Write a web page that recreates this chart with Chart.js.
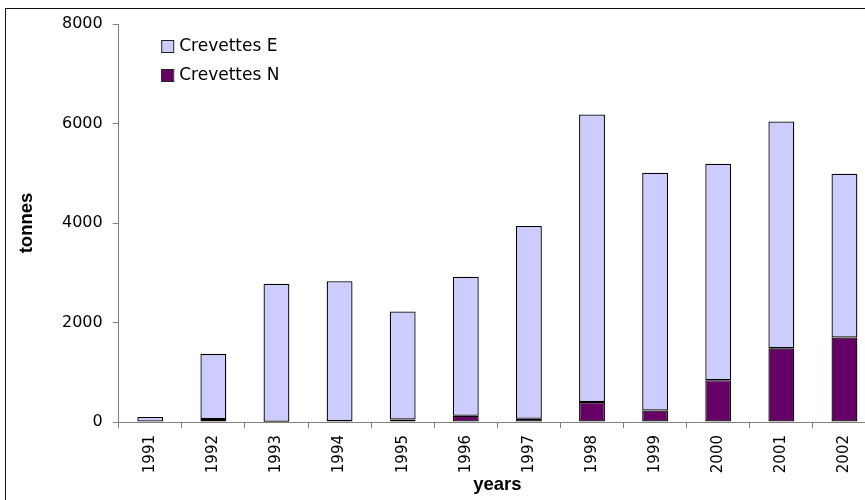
<!DOCTYPE html>
<html>
<head>
<meta charset="utf-8">
<script src="https://cdn.jsdelivr.net/npm/chart.js@4"></script>
<style>
  html, body { margin: 0; padding: 0; overflow: hidden; background: #fff; }
  #frame { position: absolute; left: 5px; top: 8px; width: 920px; height: 540px; border: 1px solid #111; }
  #chart { position: absolute; left: 0; top: 0; }
</style>
</head>
<body>
<div id="frame"></div>
<canvas id="chart" width="880" height="500"></canvas>
<script>
// values (tonnes)
const years = ['1991', '1992', '1993', '1994', '1995', '1996', '1997', '1998', '1999', '2000', '2001', '2002'];
const crevettesN = [0, 60, 5, 20, 50, 125, 65, 400, 230, 840, 1480, 1700];
const crevettesE = [100, 1310, 2775, 2810, 2170, 2795, 3875, 5780, 4780, 4350, 4560, 3290];
const yTicks = [0, 2000, 4000, 6000, 8000];

// legend drawn inside the plot, top-left, like the Excel original
const insideLegend = {
  id: 'insideLegend',
  afterDraw(chart) {
    const { ctx, chartArea } = chart;
    const items = chart.data.datasets.slice().reverse();
    ctx.save();
    ctx.font = '17px "DejaVu Sans"';
    ctx.textBaseline = 'middle';
    items.forEach((ds, i) => {
      const x = chartArea.left + 42.5;
      const y = chartArea.top + 22 + i * 29;
      ctx.fillStyle = ds.backgroundColor;
      ctx.fillRect(x, y - 6, 12, 12);
      ctx.strokeStyle = '#222';
      ctx.lineWidth = 1;
      ctx.strokeRect(x + 0.5, y - 5.5, 12, 12);
      ctx.fillStyle = '#000';
      ctx.fillText(ds.label, x + 18, y + 1);
    });
    ctx.restore();
  }
};

const ctx = document.getElementById('chart').getContext('2d');
new Chart(ctx, {
  type: 'bar',
  data: {
    labels: years,
    datasets: [{
      label: 'Crevettes N',
      data: crevettesN,
      backgroundColor: '#660066',
      borderColor: '#000',
      borderWidth: 1.3,
      borderSkipped: false
    }, {
      label: 'Crevettes E',
      data: crevettesE,
      backgroundColor: '#CCCCFF',
      borderColor: '#000',
      borderWidth: 1.3,
      borderSkipped: false
    }]
  },
  options: {
    responsive: false,
    animation: false,
    layout: { padding: { top: 24, right: 4, bottom: 0, left: 0 } },
    datasets: { bar: { categoryPercentage: 1, barPercentage: 0.41 } },
    plugins: {
      legend: { display: false },
      tooltip: { enabled: false }
    },
    scales: {
      x: {
        stacked: true,
        grid: { offset: true, drawOnChartArea: false, tickLength: 6, color: '#808080' },
        border: { color: '#808080', width: 1 },
        ticks: {
          autoSkip: false,
          minRotation: 90,
          maxRotation: 90,
          padding: 7,
          color: '#000',
          font: { family: '"DejaVu Sans"', size: 15 }
        },
        title: {
          display: true,
          text: 'years',
          color: '#000',
          font: { family: '"Liberation Sans", Arial', size: 18.5, weight: 'bold' },
          padding: { top: 0, bottom: 4 }
        },
        afterFit(scale) { scale.height = 78; }
      },
      y: {
        stacked: true,
        min: yTicks[0],
        max: yTicks[yTicks.length - 1],
        afterBuildTicks(scale) { scale.ticks = yTicks.map(v => ({ value: v })); },
        grid: { drawOnChartArea: false, tickLength: 6, color: '#808080' },
        border: { color: '#808080', width: 1 },
        ticks: {
          padding: 10,
          color: '#000',
          font: { family: '"DejaVu Sans"', size: 16 },
          callback: (value) => String(value)
        },
        title: {
          display: true,
          text: 'tonnes',
          color: '#000',
          font: { family: '"Liberation Sans", Arial', size: 18.5, weight: 'bold' },
          padding: { top: 16, bottom: 0 }
        },
        afterFit(scale) { scale.width = 118.7; }
      }
    }
  },
  plugins: [insideLegend]
});
</script>
</body>
</html>
